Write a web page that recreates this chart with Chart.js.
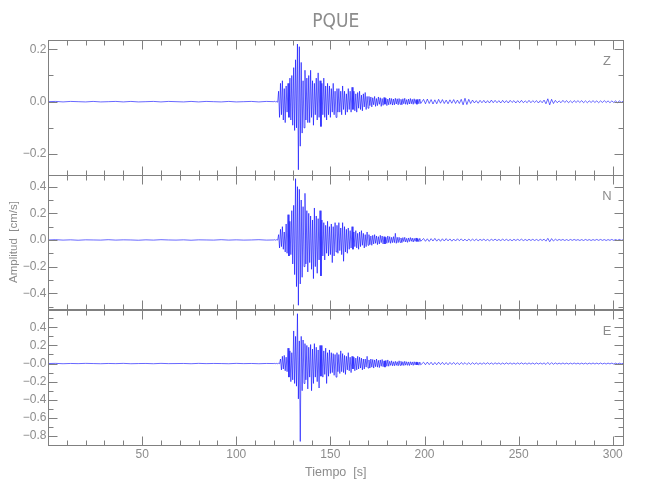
<!DOCTYPE html>
<html>
<head>
<meta charset="utf-8">
<title>PQUE</title>
<script src="https://cdn.jsdelivr.net/npm/chart.js@4.4.0/dist/chart.umd.min.js"></script>
<style>
  html, body { margin: 0; padding: 0; background: #fff; }
  #wrap { position: relative; width: 650px; height: 500px; }
  #wrap canvas { position: absolute; left: 0; }
</style>
</head>
<body>
<div id="wrap">
  <canvas id="cZ" width="650" height="185" style="top:0px"></canvas>
  <canvas id="cN" width="650" height="154" style="top:165px"></canvas>
  <canvas id="cE" width="650" height="200" style="top:300px"></canvas>
</div>
<script>
/* muestreo de las trazas (s) */
var preStart = 0,       preStep = 4;
var burstStart = 120.5, burstStep = 0.5;
var tailStart = 199.5,  tailStep = 1;

/* ---- componente Z (cm/s) ---- */
var preZ = [0, 0.001, -0.001, 0.001, 0, -0.001, 0.001, -0.001, 0, 0.001, -0.001, 0.001, -0.001, 0, 0.001, -0.001,
  0.001, 0, -0.001, 0.001, -0.001, 0.001, 0, -0.001, 0.001, -0.001, 0, 0.001, -0.001, 0.001, 0];
var burstZ = [0.002, -0.002, 0.001, -0.002,
  0.04, -0.06, 0.07, -0.05, 0.08, -0.07, 0.05, -0.08, 0.06, -0.04, 0.07, -0.06,
  0.09, -0.07, 0.10, -0.09,
  0.13, -0.11, 0.16, -0.10,
  0.22, -0.26, 0.21, -0.17,
  0.15, -0.12, 0.08, -0.10, 0.12, -0.07, 0.09, -0.08,
  0.10, -0.08, 0.12, -0.06, 0.08, -0.09, 0.07, -0.05, 0.09, -0.07,
  0.11, -0.06, 0.08, -0.095, 0.07, -0.05, 0.09, -0.06, 0.06, -0.07,
  0.07, -0.05, 0.06, -0.06, 0.05, -0.04, 0.07, -0.05, 0.04, -0.06, 0.05, -0.04,
  0.05, -0.04, 0.04, -0.05, 0.06, -0.03, 0.04, -0.05, 0.03, -0.04, 0.05, -0.03, 0.04, -0.04, 0.055, -0.03, 0.04, -0.035,
  0.03, -0.04, 0.035, -0.025, 0.04, -0.03, 0.025, -0.035, 0.03, -0.02, 0.035, -0.03, 0.02, -0.025,
  0.02, -0.015, 0.018, -0.02, 0.015, -0.012, 0.02, -0.018, 0.012, -0.015, 0.018, -0.01, 0.015, -0.018, 0.012, -0.014,
  0.016, -0.01, 0.013, -0.015, 0.01, -0.012, 0.014, -0.01, 0.012, -0.013, 0.01, -0.012, 0.013, -0.009, 0.011, -0.012,
  0.012, -0.01, 0.009, -0.012, 0.011, -0.008, 0.013, -0.01, 0.008, -0.011, 0.01, -0.009,
  0.012, -0.008, 0.009, -0.01, 0.011, -0.007, 0.008, -0.01, 0.009, -0.008, 0.01, -0.007];
var tailZ = [0.009, -0.008, 0.01, -0.007, 0.008, -0.009, 0.007, -0.008, 0.009, -0.006, 0.008, -0.007, 0.006, -0.008,
  0.007, -0.006, 0.008, -0.007, 0.006, -0.007, 0.009,
  -0.012, 0.013, -0.011, 0.009, -0.007,
  0.006, -0.005, 0.004, -0.006, 0.005, -0.004, 0.005, -0.005, 0.004, -0.005, 0.006, -0.004, 0.005, -0.004, 0.004,
  -0.005, 0.005, -0.004, 0.004, -0.005, 0.005, -0.003, 0.004, -0.005, 0.004, -0.004, 0.005, -0.004, 0.003, -0.004,
  0.005, -0.004, 0.004, -0.003, 0.004, -0.005, 0.004, -0.004, 0.006,
  -0.008, 0.011, -0.012, 0.009, -0.007, 0.005,
  -0.004, 0.003, -0.004, 0.005, -0.003, 0.004, -0.004, 0.003, -0.004, 0.004, -0.003, 0.004, -0.003, 0.004, -0.004,
  0.003, -0.004, 0.003, -0.003, 0.004, -0.003, 0.003, -0.004, 0.003, -0.003, 0.004, -0.003, 0.003, -0.004, 0.003,
  -0.003, 0.003, -0.004, 0.003, -0.003, 0.002];

/* ---- componente N ---- */
var preN = [0, 0.002, -0.001, 0.001, -0.002, 0.001, 0, -0.001, 0.002, -0.001, 0.001, 0, -0.002, 0.001, -0.001, 0.002,
  0, -0.001, 0.001, -0.002, 0.001, 0, -0.001, 0.002, -0.001, 0.001, -0.001, 0, 0.002, -0.001, 0];
var burstN = [0.002, -0.002, 0.002, -0.001,
  0.04, -0.06, 0.08, -0.05, 0.10, -0.07, 0.06, -0.09,
  0.12, -0.10, 0.19, -0.12, 0.14, -0.11,
  0.22, -0.18, 0.26, -0.26,
  0.46, -0.35, 0.40, -0.49,
  0.38, -0.33, 0.30, -0.28,
  0.25, -0.20, 0.35, -0.18, 0.22, -0.24,
  0.20, -0.17, 0.18, -0.22, 0.15, -0.29,
  0.24, -0.20, 0.18, -0.25, 0.16, -0.15, 0.22, -0.27,
  0.15, -0.12, 0.13, -0.15, 0.11, -0.10, 0.14, -0.12, 0.10, -0.11,
  0.12, -0.17, 0.10, -0.12, 0.13, -0.09, 0.11, -0.10, 0.13, -0.08, 0.09, -0.11,
  0.13, -0.16, 0.10, -0.09, 0.08, -0.10, 0.09, -0.07,
  0.07, -0.06, 0.10, -0.07, 0.06, -0.05, 0.07, -0.06, 0.05, -0.07,
  0.06, -0.05, 0.07, -0.04, 0.05, -0.06, 0.04, -0.05, 0.06, -0.04,
  0.04, -0.035, 0.03, -0.04, 0.035, -0.03, 0.04, -0.025, 0.03, -0.035, 0.025, -0.03, 0.035, -0.02, 0.03, -0.03,
  0.025, -0.03, 0.02, -0.025, 0.03, -0.02, 0.025, -0.025, 0.02, -0.02, 0.025, -0.02, 0.05, -0.025, 0.02, -0.02,
  0.02, -0.018, 0.015, -0.02, 0.018, -0.012, 0.02, -0.015, 0.012, -0.018, 0.015, -0.012,
  0.018, -0.01, 0.014, -0.015, 0.012, -0.01, 0.015, -0.012, 0.01, -0.013, 0.012, -0.01];
var tailN = [0.011, -0.01, 0.009, -0.011, 0.01, -0.008, 0.012, -0.009, 0.008, -0.01, 0.009, -0.008, 0.01,
  -0.007, 0.008, -0.009, 0.007, -0.008, 0.009, -0.006, 0.008, -0.007, 0.006, -0.008, 0.007, -0.006,
  0.006, -0.005, 0.006, -0.006, 0.005, -0.004, 0.006, -0.005, 0.004, -0.006, 0.005, -0.004, 0.006, -0.005, 0.004,
  -0.005, 0.006, -0.004, 0.005, -0.005, 0.004, -0.006, 0.005, -0.004, 0.005, -0.004, 0.006, -0.005, 0.004, -0.005,
  0.005, -0.004, 0.005, -0.004, 0.004, -0.005, 0.005, -0.004, 0.006,
  -0.009, 0.012, -0.013, 0.01, -0.008, 0.006,
  -0.004, 0.004, -0.003, 0.004, -0.004, 0.003, -0.004, 0.004, -0.003, 0.004, -0.003, 0.003, -0.004, 0.003, -0.004,
  0.004, -0.003, 0.003, -0.004, 0.003, -0.003, 0.004, -0.003, 0.004, -0.003, 0.003, -0.004, 0.003, -0.003, 0.004,
  -0.003, 0.003, -0.003, 0.004, -0.003, 0.002];

/* ---- componente E ---- */
var preE = [0, 0.002, -0.002, 0.001, -0.001, 0.002, 0, -0.002, 0.001, -0.001, 0.002, -0.002, 0, 0.001, -0.002, 0.002,
  -0.001, 0, 0.001, -0.002, 0.002, -0.001, 0.001, 0, -0.002, 0.002, -0.001, 0.001, -0.002, 0.001, 0];
var burstE = [0.002, -0.002, 0.002, -0.002, 0.003, -0.002,
  0.05, -0.07, 0.08, -0.06, 0.09, -0.08, 0.07, -0.09,
  0.17, -0.15, 0.14, -0.20, 0.12, -0.18,
  0.36, -0.22, 0.30, -0.25,
  0.55, -0.39, 0.25, -0.86,
  0.30, -0.30, 0.26, -0.22,
  0.22, -0.18, 0.20, -0.28, 0.18, -0.15, 0.21, -0.30,
  0.16, -0.22, 0.22, -0.15, 0.18, -0.20, 0.15, -0.27, 0.20, -0.14,
  0.20, -0.15, 0.14, -0.12, 0.17, -0.22, 0.12, -0.14, 0.15, -0.11,
  0.12, -0.10, 0.11, -0.13, 0.10, -0.15, 0.12, -0.09, 0.10, -0.11, 0.14, -0.09, 0.11, -0.10, 0.09, -0.12,
  0.08, -0.07, 0.12, -0.08, 0.07, -0.10, 0.08, -0.06, 0.07, -0.08, 0.06, -0.07, 0.08, -0.06, 0.07, -0.05,
  0.06, -0.07, 0.05, -0.06,
  0.05, -0.04, 0.08, -0.05, 0.04, -0.05, 0.05, -0.04, 0.045, -0.05, 0.04, -0.035, 0.05, -0.04, 0.035, -0.045,
  0.04, -0.03, 0.045, -0.035, 0.03, -0.04, 0.035, -0.03, 0.04, -0.03,
  0.025, -0.02, 0.03, -0.025, 0.02, -0.025, 0.025, -0.02, 0.02, -0.025, 0.03, -0.02, 0.025, -0.02, 0.02, -0.022,
  0.025, -0.018, 0.02, -0.02, 0.018, -0.022, 0.02, -0.015, 0.018, -0.02, 0.02, -0.015, 0.018, -0.016, 0.015, -0.018,
  0.016, -0.014];
var tailE = [0.015, -0.013, 0.016, -0.012, 0.014, -0.015, 0.012, -0.013, 0.015, -0.011, 0.013, -0.012, 0.011,
  -0.013, 0.012, -0.01, 0.012, -0.011, 0.01, -0.012, 0.011, -0.009, 0.01, -0.011, 0.009, -0.01,
  0.009, -0.008, 0.008, -0.009, 0.007, -0.008, 0.008, -0.007, 0.009, -0.007, 0.007, -0.008, 0.008, -0.006, 0.007,
  -0.008, 0.006, -0.007, 0.008, -0.006, 0.007, -0.007, 0.006, -0.007, 0.007, -0.006, 0.008, -0.006, 0.006, -0.007,
  0.007, -0.006, 0.006, -0.007, 0.007, -0.006, 0.006, -0.006, 0.007,
  -0.01, 0.012, -0.011, 0.01, -0.008, 0.007,
  -0.006, 0.005, -0.006, 0.006, -0.005, 0.005, -0.006, 0.005, -0.005, 0.006, -0.005, 0.005, -0.006, 0.005, -0.005,
  0.005, -0.006, 0.005, -0.005, 0.006, -0.005, 0.005, -0.005, 0.006, -0.005, 0.004, -0.005, 0.005, -0.004, 0.005,
  -0.005, 0.004, -0.005, 0.004, -0.004, 0.003];

/* ejes */
var rangoTiempo = [0, 305.7];
var ticksTiempo = [50, 100, 150, 200, 250, 300];
var rangoZ = [-0.28, 0.2355],  ticksZ = [-0.2, 0.0, 0.2];
var rangoN = [-0.518, 0.4875], ticksN = [-0.4, -0.2, 0.0, 0.2, 0.4];
var rangoE = [-0.899, 0.591],  ticksE = [-0.8, -0.6, -0.4, -0.2, 0.0, 0.2, 0.4];

var GRIS = "#8c8c8c";
var FUENTE = "'Liberation Sans', Arial, sans-serif";

function serie(pre, burst, tail) {
  var pts = [];
  pre.forEach(function (v, i)   { pts.push({ x: preStart + i * preStep, y: v }); });
  burst.forEach(function (v, i) { pts.push({ x: burstStart + i * burstStep, y: v }); });
  tail.forEach(function (v, i)  { pts.push({ x: tailStart + i * tailStep, y: v }); });
  return pts;
}

/* marco con ticks hacia dentro en los cuatro lados + letra de componente */
var marcoPlugin = {
  id: "marco",
  afterDatasetsDraw: function (chart, args, opts) {
    var ctx = chart.ctx, a = chart.chartArea;
    var xs = chart.scales.x, ys = chart.scales.y;
    var L = Math.floor(a.left) + 0.5, R = Math.floor(a.right) + 0.5;
    var T = Math.floor(a.top) + 0.5,  B = Math.floor(a.bottom) + 0.5;
    ctx.save();
    ctx.strokeStyle = "#808080";
    ctx.lineWidth = 1;
    ctx.strokeRect(L, T, R - L, B - T);
    ctx.beginPath();
    for (var t = 10; t < xs.max; t += 10) {
      var px = Math.round(xs.getPixelForValue(t)) + 0.5;
      var lx = (t % 50 === 0) ? 9 : 5;
      ctx.moveTo(px, T); ctx.lineTo(px, T + lx);
      ctx.moveTo(px, B); ctx.lineTo(px, B - lx);
    }
    for (var k = Math.ceil(ys.min * 10); k <= Math.floor(ys.max * 10); k++) {
      var py = Math.round(ys.getPixelForValue(k / 10)) + 0.5;
      var ly = (k % 2 === 0) ? 9 : 5;
      ctx.moveTo(L, py); ctx.lineTo(L + ly, py);
      ctx.moveTo(R, py); ctx.lineTo(R - ly, py);
    }
    ctx.stroke();
    ctx.fillStyle = GRIS;
    ctx.font = "13px " + FUENTE;
    ctx.textAlign = "center";
    ctx.textBaseline = "middle";
    ctx.fillText(opts.letra, a.right - 16.5, a.top + 21);
    ctx.restore();
  }
};

function etiquetaY(cero) {
  return function (v) {
    if (Math.abs(v) < 1e-9) return cero;
    return (v < 0 ? "\u2212" : "") + Math.abs(v).toFixed(1);
  };
}

function crearPanel(id, datos, rango, ticks, letra, extra) {
  var conEjeX = !!extra.ejeX;
  return new Chart(document.getElementById(id), {
    type: "line",
    data: {
      datasets: [{
        data: datos,
        borderColor: "rgba(0, 0, 255, 0.85)",
        borderWidth: 0.7,
        pointRadius: 0,
        fill: false,
        tension: 0
      }]
    },
    options: {
      responsive: false,
      animation: false,
      events: [],
      layout: { padding: extra.padding },
      plugins: {
        legend: { display: false },
        tooltip: { enabled: false },
        title: extra.titulo || { display: false },
        marco: { letra: letra }
      },
      scales: {
        x: {
          type: "linear",
          min: rangoTiempo[0],
          max: rangoTiempo[1],
          display: conEjeX,
          grid: { display: false, drawTicks: false },
          border: { display: false },
          afterBuildTicks: function (s) { s.ticks = ticksTiempo.map(function (v) { return { value: v }; }); },
          afterFit: function (s) { if (conEjeX) s.height = 55; },
          ticks: {
            padding: 2, color: GRIS, maxRotation: 0, autoSkip: false,
            font: { family: FUENTE, size: 12 }
          },
          title: {
            display: conEjeX, text: "Tiempo  [s]", color: GRIS,
            font: { family: FUENTE, size: 12.5 },
            padding: { top: 0, bottom: 20 }
          }
        },
        y: {
          type: "linear",
          position: "left",
          min: rango[0],
          max: rango[1],
          grid: { display: false, drawTicks: false },
          border: { display: false },
          afterBuildTicks: function (s) { s.ticks = ticks.map(function (v) { return { value: v }; }); },
          afterFit: function (s) { s.width = 48; },
          ticks: {
            padding: 1.5, color: GRIS,
            font: { family: FUENTE, size: 12 },
            callback: etiquetaY(extra.cero || "0.0")
          },
          title: extra.tituloY || { display: false }
        }
      }
    },
    plugins: [marcoPlugin]
  });
}

crearPanel("cZ", serie(preZ, burstZ, tailZ), rangoZ, ticksZ, "Z", {
  padding: { left: 0, right: 26.5, top: 0, bottom: 10 },
  titulo: {
    display: true, text: "PQUE", color: GRIS, fullSize: false,
    font: { family: "'Liberation Sans Narrow', 'DejaVu Sans Condensed', 'Liberation Sans', sans-serif", size: 19, weight: "normal" },
    padding: { top: 11, bottom: 6.2 }
  }
});

crearPanel("cN", serie(preN, burstN, tailN), rangoN, ticksN, "N", {
  padding: { left: 0, right: 26.5, top: 10, bottom: 10 },
  tituloY: {
    display: true, text: "Amplitud  [cm/s]", color: GRIS,
    font: { family: FUENTE, size: 11.5 },
    padding: { top: 7, bottom: 0 }
  }
});

crearPanel("cE", serie(preE, burstE, tailE), rangoE, ticksE, "E", {
  padding: { left: 0, right: 26.5, top: 10, bottom: 0 },
  cero: "\u22120.0",
  ejeX: true
});
</script>
</body>
</html>
